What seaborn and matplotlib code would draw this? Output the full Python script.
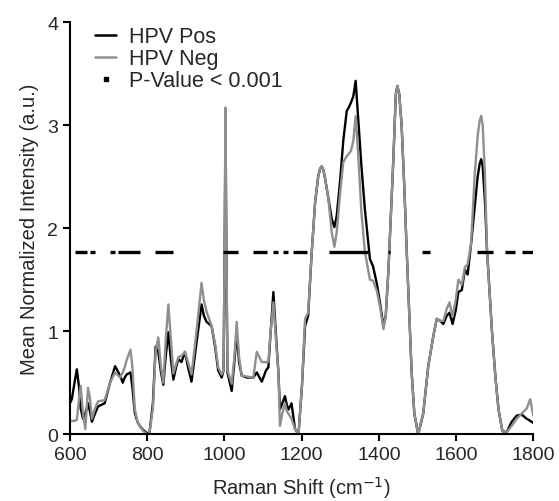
import matplotlib
matplotlib.use("Agg")
import matplotlib.pyplot as plt
from matplotlib.lines import Line2D
import pandas as pd
import seaborn as sns

# Raman shift (cm-1) and mean normalized intensity
shift = [600, 605, 612, 618, 624, 628, 634, 640, 647, 652, 657, 665, 673, 690,
         704, 717, 730, 737, 742, 747, 757, 762, 768, 775, 781, 790, 800, 806,
         815, 822, 829, 836, 842, 848, 855, 861, 868, 875, 881, 889, 898, 906,
         915, 928, 941, 947, 954, 967, 976, 984, 993, 998, 1001, 1003, 1005,
         1008, 1019, 1026, 1032, 1038, 1045, 1058, 1075, 1084, 1097, 1108,
         1114, 1120, 1127, 1133, 1140, 1144, 1150, 1157, 1162, 1166, 1174,
         1183, 1192, 1201, 1209, 1217, 1226, 1235, 1243, 1248, 1252, 1256,
         1260, 1269, 1278, 1285, 1291, 1300, 1308, 1317, 1322, 1328, 1334,
         1340, 1346, 1355, 1364, 1377, 1385, 1395, 1404, 1412, 1418, 1425,
         1431, 1438, 1444, 1448, 1453, 1459, 1466, 1472, 1485, 1492, 1502,
         1515, 1528, 1541, 1550, 1559, 1567, 1576, 1583, 1591, 1599, 1606,
         1615, 1623, 1630, 1639, 1648, 1656, 1661, 1665, 1669, 1675, 1680,
         1693, 1702, 1710, 1720, 1731, 1744, 1757, 1770, 1783, 1792, 1800]

hpv_pos = [0.30, 0.34, 0.50, 0.63, 0.45, 0.25, 0.15, 0.20, 0.30, 0.22, 0.12,
           0.20, 0.27, 0.30, 0.50, 0.66, 0.57, 0.50, 0.55, 0.58, 0.60, 0.45,
           0.21, 0.12, 0.08, 0.04, 0.01, 0.01, 0.30, 0.85, 0.80, 0.60, 0.48,
           0.75, 0.99, 0.75, 0.53, 0.65, 0.73, 0.70, 0.80, 0.65, 0.51, 0.89,
           1.26, 1.15, 1.09, 1.05, 0.85, 0.62, 0.55, 0.62, 1.90, 3.05, 1.90,
           0.60, 0.42, 0.70, 0.99, 0.70, 0.57, 0.55, 0.55, 0.60, 0.51, 0.62,
           0.65, 1.00, 1.38, 1.00, 0.60, 0.24, 0.30, 0.37, 0.28, 0.24, 0.30,
           0.05, 0.00, 0.47, 1.05, 1.15, 1.75, 2.25, 2.50, 2.58, 2.60, 2.57,
           2.50, 2.30, 2.09, 2.01, 2.12, 2.47, 2.85, 3.14, 3.17, 3.22, 3.28,
           3.43, 3.10, 2.60, 2.18, 1.70, 1.63, 1.46, 1.25, 1.05, 1.15, 1.60,
           2.10, 2.70, 3.30, 3.38, 3.30, 3.00, 2.40, 1.80, 0.60, 0.20, 0.00,
           0.20, 0.66, 0.95, 1.12, 1.10, 1.07, 1.15, 1.18, 1.07, 1.20, 1.38,
           1.40, 1.60, 1.55, 1.85, 2.20, 2.50, 2.62, 2.67, 2.60, 2.25, 1.80,
           1.00, 0.55, 0.24, 0.03, 0.02, 0.12, 0.18, 0.19, 0.15, 0.13, 0.11]

hpv_neg = [0.12, 0.13, 0.13, 0.14, 0.35, 0.47, 0.20, 0.05, 0.45, 0.35, 0.15,
           0.25, 0.32, 0.33, 0.50, 0.60, 0.55, 0.60, 0.65, 0.72, 0.82, 0.65,
           0.25, 0.12, 0.08, 0.03, 0.00, 0.01, 0.25, 0.80, 0.94, 0.65, 0.50,
           0.90, 1.26, 0.95, 0.59, 0.68, 0.75, 0.76, 0.80, 0.70, 0.58, 1.00,
           1.47, 1.30, 1.19, 1.05, 0.88, 0.65, 0.58, 0.62, 2.00, 3.17, 2.00,
           0.62, 0.49, 0.75, 1.09, 0.75, 0.57, 0.56, 0.55, 0.80, 0.70, 0.70,
           0.70, 1.00, 1.28, 0.95, 0.60, 0.08, 0.20, 0.30, 0.22, 0.20, 0.15,
           0.05, 0.00, 0.47, 1.12, 1.18, 1.75, 2.25, 2.50, 2.58, 2.60, 2.57,
           2.50, 2.30, 1.96, 1.82, 1.96, 2.35, 2.64, 2.70, 2.72, 2.75, 2.85,
           3.09, 2.75, 2.15, 1.77, 1.50, 1.49, 1.39, 1.22, 1.02, 1.15, 1.60,
           2.10, 2.70, 3.30, 3.38, 3.30, 3.00, 2.40, 1.80, 0.60, 0.20, 0.00,
           0.20, 0.66, 0.95, 1.12, 1.10, 1.10, 1.22, 1.28, 1.14, 1.30, 1.50,
           1.45, 1.62, 1.65, 1.85, 2.50, 2.90, 3.04, 3.09, 3.00, 2.50, 1.80,
           1.00, 0.55, 0.24, 0.03, 0.02, 0.08, 0.15, 0.20, 0.25, 0.34, 0.18]

# Raman shift ranges where p < 0.001
sig_start = [613, 652, 704, 724, 820, 996, 1074, 1126, 1152, 1178, 1271, 1424,
             1512, 1655, 1727, 1771]
sig_end = [644, 665, 717, 781, 867, 1035, 1110, 1139, 1165, 1214, 1372, 1429,
           1533, 1696, 1753, 1800]
sig_level = 1.77

df = pd.DataFrame({"shift": shift, "HPV Pos": hpv_pos, "HPV Neg": hpv_neg})

sns.set_style("ticks")
plt.rcParams["font.family"] = ["Liberation Sans", "DejaVu Sans"]

fig = plt.figure(figsize=(5.59, 5.02), dpi=100)
ax = fig.add_axes([0.125, 0.133, 0.829, 0.821])

sns.lineplot(data=df, x="shift", y="HPV Pos", color="black", lw=1.7, ax=ax)
sns.lineplot(data=df, x="shift", y="HPV Neg", color="#8f8f8f", lw=1.7, ax=ax)
ax.hlines([sig_level] * len(sig_start), sig_start, sig_end, color="black",
          lw=2.4, zorder=5)

ax.set_xlim(600, 1800)
ax.set_ylim(0, 4)
ax.set_xticks(range(600, 1801, 200))
ax.set_yticks([0, 1, 2, 3, 4])
ax.set_xlabel("Raman Shift (cm$^{-1}$)", fontsize=14.5, labelpad=8)
ax.set_ylabel("Mean Normalized Intensity (a.u.)", fontsize=14.5, labelpad=6)
ax.tick_params(labelsize=14, width=1.5, length=5, color="black")
for s in ["left", "bottom"]:
    ax.spines[s].set_linewidth(1.5)
    ax.spines[s].set_color("black")
sns.despine(ax=ax)

handles = [Line2D([], [], color="black", lw=1.8),
           Line2D([], [], color="#8f8f8f", lw=1.8),
           Line2D([], [], color="black", marker="s", markersize=2.5, ls="None")]
ax.legend(handles, ["HPV Pos", "HPV Neg", "P-Value < 0.001"], loc="upper left",
          bbox_to_anchor=(0.055, 0.99), frameon=False, fontsize=15.5,
          handlelength=0.95, handletextpad=0.6, labelspacing=0.05,
          borderaxespad=0, borderpad=0)

plt.savefig("out.png", dpi=100)
